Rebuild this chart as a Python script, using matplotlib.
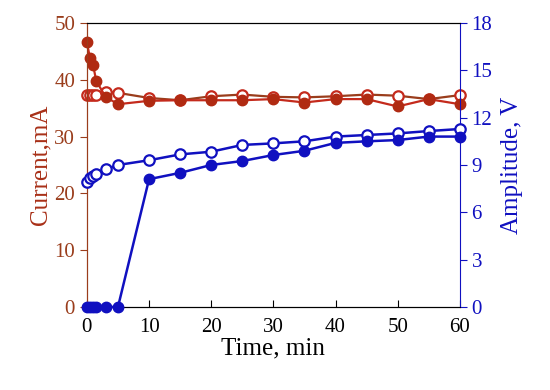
import matplotlib
matplotlib.use("Agg")
from matplotlib import pyplot as plt

plt.rcParams['font.family'] = ['Liberation Serif', 'DejaVu Serif']

# data
t = [0, 0.5, 1, 1.5, 3, 5, 10, 15, 20, 25, 30, 35, 40, 45, 50, 55, 60]
cur_filled = [46.6, 43.8, 42.6, 39.8, 37.0, 35.7, 36.3, 36.4, 36.4, 36.4,
              36.6, 36.0, 36.6, 36.6, 35.3, 36.6, 35.7]
cur_open = [37.3, 37.3, 37.3, 37.3, 37.9, 37.7, 36.8, 36.4, 37.1, 37.4,
            37.0, 36.9, 37.1, 37.4, 37.2, 36.6, 37.3]
amp_filled = [0, 0, 0, 0, 0, 0, 8.1, 8.5, 9.0, 9.25,
              9.63, 9.9, 10.4, 10.5, 10.58, 10.8, 10.8]
amp_open = [7.94, 8.15, 8.3, 8.43, 8.72, 9.0, 9.3, 9.67, 9.84, 10.27,
            10.37, 10.5, 10.8, 10.9, 11.0, 11.15, 11.28]

red = '#c42a1c'
brown = '#9a3d1c'
blue = '#1010c0'

fig = plt.figure(figsize=(5.5, 3.9), dpi=100)
ax = fig.add_axes([0.158, 0.213, 0.678, 0.728])
ax2 = ax.twinx()

ax.plot(t, cur_open, color=brown, lw=1.6, marker='o', ms=7.5, mfc='white',
        mec=red, mew=1.6, clip_on=False, zorder=3)
ax.plot(t, cur_filled, color=red, lw=1.6, marker='o', ms=7.5, mfc='#b02a12',
        mec='#b02a12', clip_on=False, zorder=4)
ax2.plot(t, amp_filled, color=blue, lw=1.8, marker='o', ms=7.5, mfc=blue,
         mec=blue, clip_on=False, zorder=4)
ax2.plot(t, amp_open, color=blue, lw=1.8, marker='o', ms=7.5, mfc='white',
         mec=blue, mew=1.6, clip_on=False, zorder=3)

ax.set_xlim(0, 60)
ax.set_ylim(0, 50)
ax2.set_ylim(0, 18)
ax.set_xticks(range(0, 61, 10))
ax.set_yticks(range(0, 51, 10))
ax2.set_yticks(range(0, 19, 3))

ax.tick_params(axis='x', direction='in', length=5, labelsize=15, pad=8)
ax.tick_params(axis='y', direction='out', length=5, labelsize=15,
               colors=brown, labelcolor=brown)
ax2.tick_params(axis='y', direction='out', length=5, labelsize=15,
                colors=blue, labelcolor=blue)

ax.spines['left'].set_color(brown)
ax2.spines['left'].set_color(brown)
ax2.spines['right'].set_color(blue)
ax.spines['right'].set_visible(False)

ax.set_xlabel('Time, min', fontsize=18, labelpad=0)
ax.set_ylabel('Current,mA', fontsize=18, color='#a83018', labelpad=2)
ax2.set_ylabel('Amplitude, V', fontsize=18, color=blue, labelpad=6)

fig.savefig('out.png', dpi=100)
